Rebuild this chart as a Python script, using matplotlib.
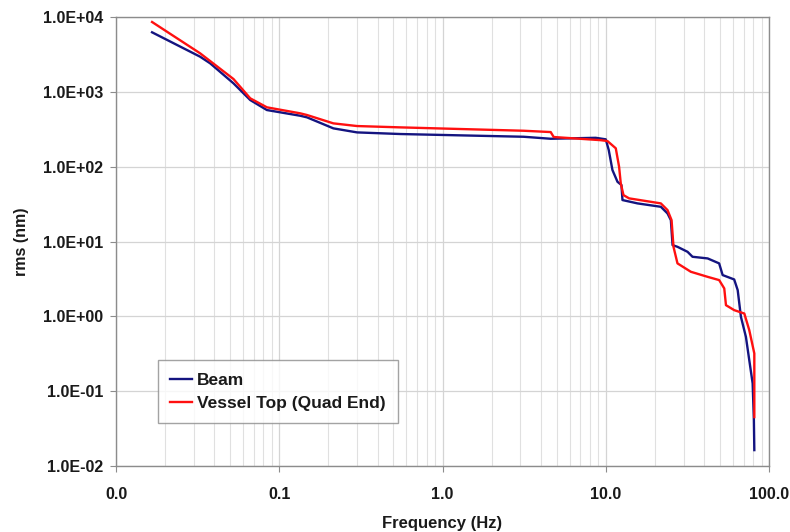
import matplotlib
matplotlib.use("Agg")
import matplotlib.pyplot as plt
from matplotlib.ticker import FixedLocator, FuncFormatter, LogLocator, NullFormatter

plt.rcParams['font.family'] = ['Liberation Sans', 'DejaVu Sans']

# Beam (blue) curve
beam_f = [0.01663, 0.03276, 0.03773, 0.05244, 0.06641, 0.0840, 0.1345, 0.1479, 0.2145,
          0.2997, 0.5525, 3.14, 4.60, 8.68, 10.0, 10.43, 10.99, 11.80, 12.48, 12.66,
          15.65, 21.75, 23.9, 25.05, 25.66, 27.5, 31.7, 34.0, 42.1, 49.5, 52.0, 61.2,
          64.3, 67.3, 72.2, 75.7, 79.4, 80.8, 81.3]
beam_rms = [6245, 2947, 2404, 1299, 777, 571, 479, 456, 325,
            287, 273, 251, 236, 243, 232, 167, 90.1, 62.8, 56.8, 35.8,
            32.3, 29.1, 23.7, 19.3, 8.95, 8.49, 7.28, 6.25, 5.94, 5.10, 3.56, 3.11,
            2.24, 0.985, 0.532, 0.26, 0.127, 0.041, 0.0163]

# Vessel Top (Quad End) (red) curve
vessel_f = [0.01663, 0.03276, 0.05244, 0.06641, 0.0840, 0.1345, 0.1479, 0.2145, 0.2997,
            0.5525, 3.14, 4.60, 4.80, 9.31, 10.24, 11.52, 12.07, 12.36, 12.84, 13.9,
            21.75, 23.9, 25.3, 26.0, 27.5, 33.2, 42.1, 49.5, 53.2, 54.5, 61.2, 70.6,
            75.7, 81.3, 81.3]
vessel_rms = [8576, 3271, 1483, 819, 621, 516, 490, 379, 349,
              335, 302, 290, 249, 226, 220, 176, 99.7, 59.8, 41.7, 37.7,
              32.3, 26.3, 19.3, 8.49, 5.10, 3.94, 3.37, 3.05, 2.36, 1.41, 1.21, 1.09,
              0.654, 0.319, 0.045]

x_ticks = [0.01, 0.1, 1, 10, 100]
y_ticks = [1e-2, 1e-1, 1e0, 1e1, 1e2, 1e3, 1e4]

fig = plt.figure(figsize=(7.9, 5.32), dpi=100)
ax = fig.add_axes([116 / 790, 1 - 466 / 532, 653 / 790, 449 / 532])

ax.plot(beam_f, beam_rms, color='#141480', lw=1.7, label='Beam', zorder=3)
ax.plot(vessel_f, vessel_rms, color='#ff1010', lw=1.7, label='Vessel Top (Quad End)', zorder=3)

ax.set_xscale('log')
ax.set_yscale('log')
ax.set_xlim(0.01, 100)
ax.set_ylim(1e-2, 1e4)

ax.xaxis.set_major_locator(FixedLocator(x_ticks))
ax.xaxis.set_major_formatter(FuncFormatter(lambda v, p: f"{v:.1f}"))
ax.xaxis.set_minor_locator(LogLocator(base=10, subs=range(2, 10), numticks=20))
ax.xaxis.set_minor_formatter(NullFormatter())
ax.yaxis.set_major_locator(FixedLocator(y_ticks))
ax.yaxis.set_major_formatter(FuncFormatter(lambda v, p: f"{v:.1E}"))
ax.yaxis.set_minor_locator(FixedLocator([]))

ax.grid(True, which='major', axis='both', color='#d4d4d4', lw=0.9, zorder=0)
ax.grid(True, which='minor', axis='x', color='#e0e0e0', lw=0.8, zorder=0)

for s in ax.spines.values():
    s.set_color('#8c8c8c')
    s.set_linewidth(1.0)

ax.tick_params(axis='both', which='major', length=4, color='#8c8c8c', labelsize=11.5, pad=5)
ax.tick_params(axis='x', which='minor', length=0)
ax.tick_params(axis='x', which='major', pad=11)
for lbl in ax.get_xticklabels() + ax.get_yticklabels():
    lbl.set_fontweight('bold')
    lbl.set_color('#1a1a1a')

ax.set_xlabel('Frequency (Hz)', fontsize=12, fontweight='bold', labelpad=10, color='#1a1a1a')
ax.set_ylabel('rms (nm)', fontsize=11.5, fontweight='bold', labelpad=10, color='#1a1a1a')

leg = ax.legend(loc='lower left', bbox_to_anchor=(0.064, 0.096),
                prop={'weight': 'bold', 'size': 12.5}, frameon=True, fancybox=False,
                handlelength=1.25, handletextpad=0.3, borderpad=0.7, labelspacing=0.45,
                borderaxespad=0)
leg.get_frame().set_edgecolor('#8c8c8c')
leg.get_frame().set_linewidth(1.0)
for t in leg.get_texts():
    t.set_color('#1a1a1a')

fig.savefig('out.png', dpi=100)
